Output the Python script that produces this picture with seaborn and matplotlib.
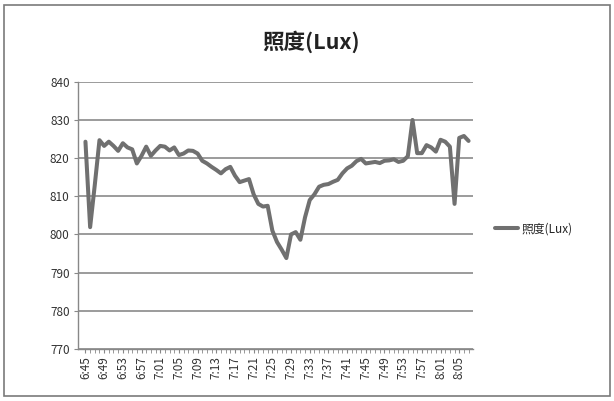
import numpy as np
import pandas as pd
import seaborn as sns
from matplotlib import pyplot as plt
from matplotlib.patches import Rectangle

# Lux readings, one per minute starting 6:45
START_H, START_M = 6, 45
LUX = [
    824.3, 801.9, 813.0, 824.7, 823.2, 824.3, 823.2, 821.9, 823.9, 822.8,
    822.3, 818.6, 820.6, 823.0, 820.6, 822.0, 823.2, 823.0, 822.0, 822.8,
    820.8, 821.2, 822.0, 821.9, 821.2, 819.3, 818.6, 817.7, 816.9, 816.0,
    817.1, 817.7, 815.4, 813.7, 814.1, 814.5, 810.5, 808.0, 807.3, 807.5,
    801.0, 798.0, 796.0, 793.8, 800.0, 800.6, 798.6, 804.5, 809.0, 810.5,
    812.5, 813.0, 813.2, 813.8, 814.3, 816.0, 817.3, 818.0, 819.2, 819.8,
    818.6, 818.8, 819.0, 818.7, 819.3, 819.4, 819.7, 819.0, 819.3, 820.5,
    830.0, 821.3, 821.3, 823.4, 822.8, 821.7, 824.8, 824.3, 823.0, 808.0,
    825.3, 825.8, 824.5,
]
Y_TICKS = [770, 780, 790, 800, 810, 820, 830, 840]
SERIES = "照度(Lux)"


def minute_label(i):
    total = START_H * 60 + START_M + i
    return f"{total // 60}:{total % 60:02d}"


def main():
    df = pd.DataFrame({"idx": np.arange(len(LUX)), "lux": LUX})
    df["time"] = [minute_label(i) for i in df["idx"]]

    sns.set_style("white")
    plt.rcParams["font.family"] = ["Noto Sans CJK SC", "DejaVu Sans"]

    fig = plt.figure(figsize=(6.14, 4.01), dpi=100)
    ax = fig.add_axes([0.127, 0.130, 0.643, 0.666])

    sns.lineplot(data=df, x="idx", y="lux", color="#707070", linewidth=2.9,
                 label=SERIES, ax=ax)

    # Excel-like axes
    ax.set_ylim(770, 840)
    ax.set_yticks(Y_TICKS)
    ax.set_xlim(-1.6, len(LUX) - 0.1)
    major = list(range(0, len(LUX), 4))
    ax.set_xticks(major)
    ax.set_xticklabels([df["time"][i] for i in major], rotation=90)
    ax.set_xticks(np.arange(len(LUX)), minor=True)
    ax.tick_params(axis="x", which="both", direction="out", length=3,
                   color="#888888", bottom=True, labelsize=8.5, labelcolor="#333333", pad=2)
    ax.tick_params(axis="y", length=3, direction="out", color="#888888", left=True,
                   labelsize=8.5, labelcolor="#333333", pad=3)
    ax.yaxis.grid(True, color="#8a8a8a", linewidth=1.2)
    ax.xaxis.grid(False)
    for side in ["top", "right"]:
        ax.spines[side].set_visible(False)
    for side in ["left", "bottom"]:
        ax.spines[side].set_color("#888888")
        ax.spines[side].set_linewidth(1.0)
    ax.set(xlabel=None, ylabel=None)

    fig.suptitle(SERIES, x=0.507, y=0.925, fontsize=15.5, fontweight="bold", color="#222222")

    leg = ax.legend(loc="center left", bbox_to_anchor=(1.03, 0.45), frameon=False,
                    fontsize=8.5, handlelength=1.9, handletextpad=0.3)
    for line in leg.get_lines():
        line.set_linewidth(2.9)

    # chart area border
    fig.patches.append(Rectangle((0.006, 0.012), 0.988, 0.976, transform=fig.transFigure,
                                 fill=False, edgecolor="#7a7a7a", linewidth=1.2))

    plt.savefig("out.png", dpi=100)
    plt.close()


if __name__ == "__main__":
    main()
